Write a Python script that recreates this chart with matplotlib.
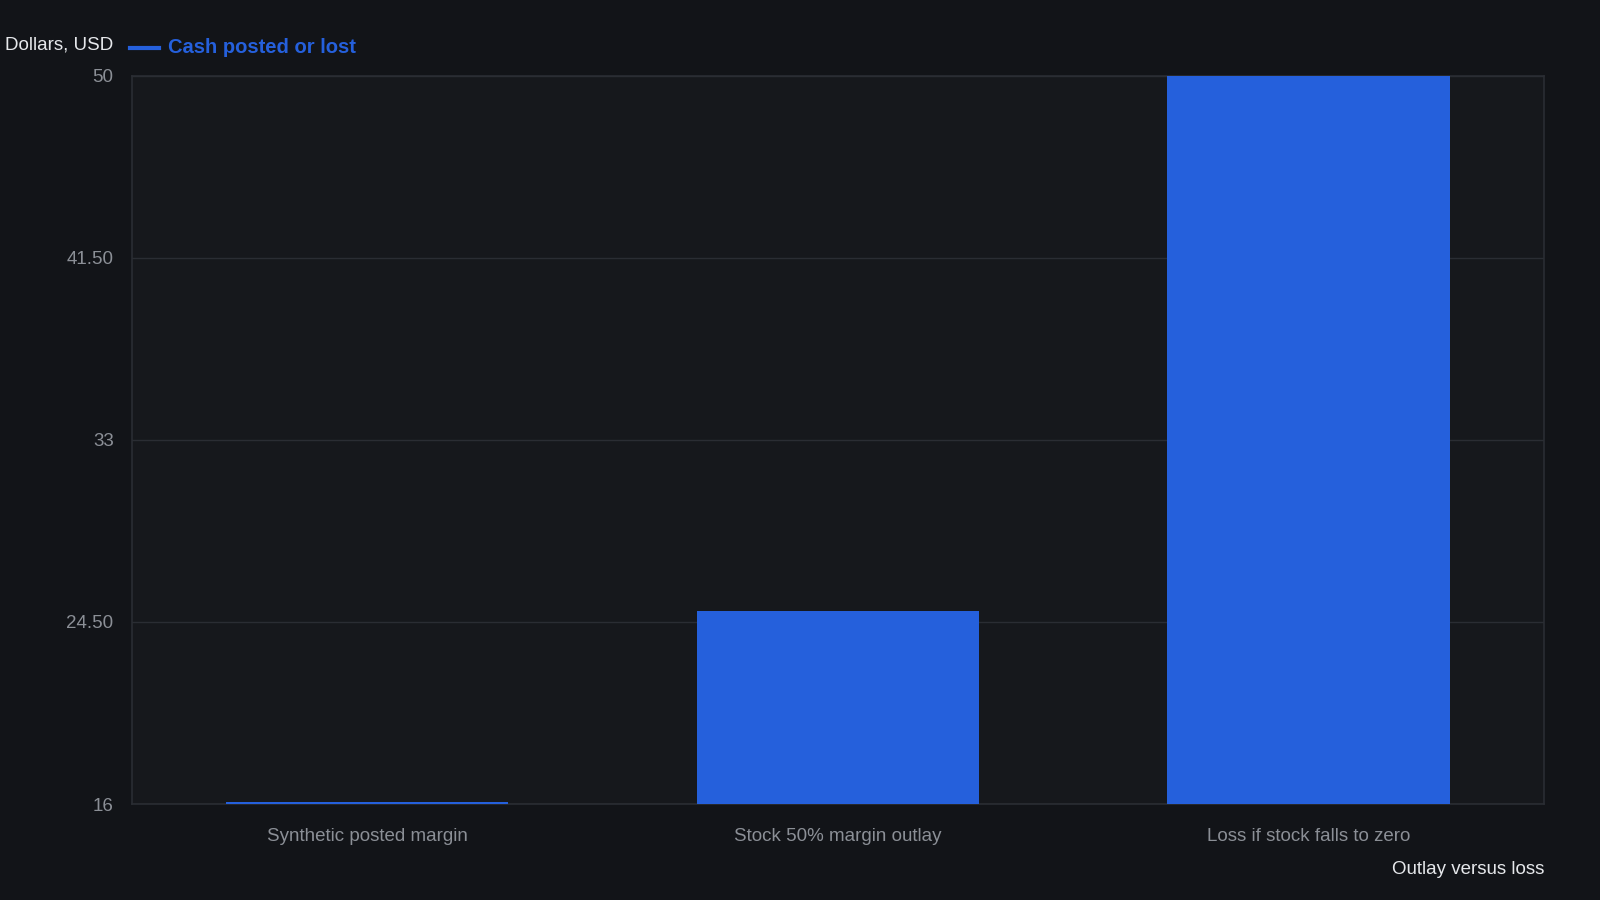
import matplotlib.pyplot as plt

plt.rcParams['font.family'] = ['Liberation Sans', 'DejaVu Sans']

# data
categories = ['Synthetic posted margin', 'Stock 50% margin outlay', 'Loss if stock falls to zero']
values = [16.1, 25, 50]
yticks = [16, 24.5, 33, 41.5, 50]
ytick_labels = ['16', '24.50', '33', '41.50', '50']

bg = '#121418'
panel = '#16181c'
blue = '#2560dc'
grid = '#2a2d33'
tick_col = '#8b8f96'

fig = plt.figure(figsize=(16, 9), dpi=100, facecolor=bg)
ax = fig.add_axes([0.0823, 0.1066, 0.8827, 0.8095])
ax.set_facecolor(panel)

ax.bar(range(len(categories)), [v - 16 for v in values], bottom=16, width=0.6,
       color=blue, zorder=3)

ax.set_xlim(-0.5, 2.5)
ax.set_ylim(16, 50)
ax.set_yticks(yticks)
ax.set_yticklabels(ytick_labels)
ax.set_xticks(range(len(categories)))
ax.set_xticklabels(categories)
ax.tick_params(axis='both', colors=tick_col, labelsize=13.5, length=0)
ax.tick_params(axis='y', pad=13)
ax.tick_params(axis='x', pad=17)
ax.grid(axis='y', color=grid, linewidth=1, zorder=0)
for s in ax.spines.values():
    s.set_color(grid)
    s.set_linewidth(1.2)

fig.text(0.003, 0.950, 'Dollars, USD', color='#e6e8eb', fontsize=13.5, va='center', ha='left')
fig.lines.append(plt.Line2D([0.0815, 0.0995], [0.947, 0.947], transform=fig.transFigure,
                            color=blue, linewidth=3))
fig.text(0.105, 0.947, 'Cash posted or lost', color=blue, fontsize=14.5, fontweight='bold',
         va='center', ha='left')
fig.text(0.965, 0.034, 'Outlay versus loss', color='#e6e8eb', fontsize=13.5, ha='right', va='center')

fig.savefig('out.png', facecolor=bg)
